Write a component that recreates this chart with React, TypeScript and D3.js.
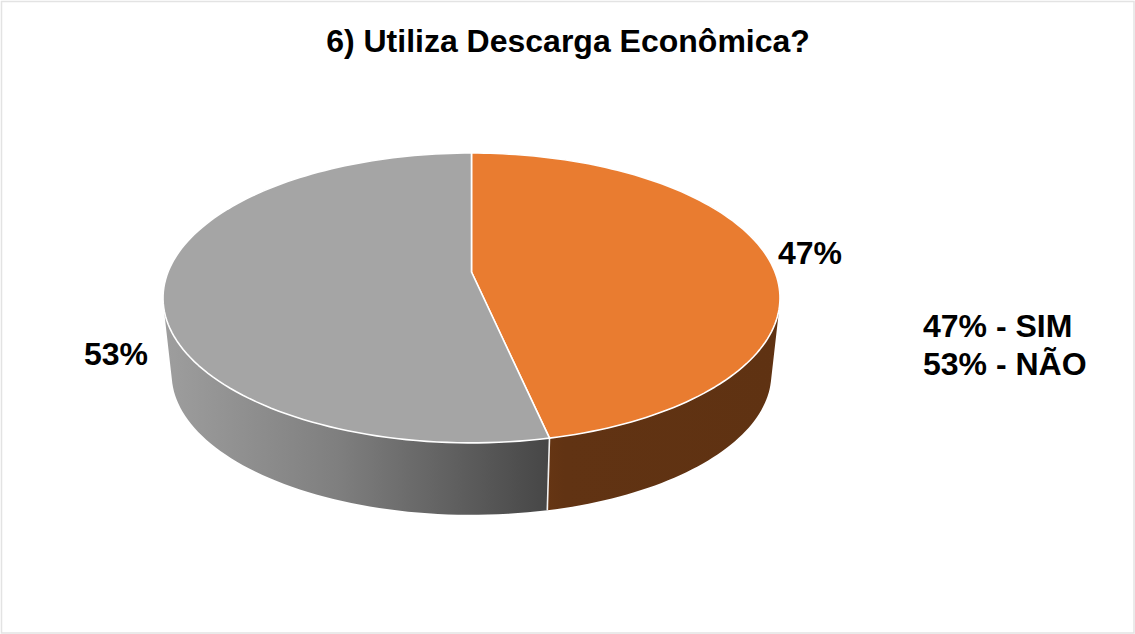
import React from "react";
import * as d3 from "d3";

const categories = ["SIM", "NÃO"];
const shares = [46.6, 53.4];
const shareLabels = ["47%", "53%"];
const legendLines = ["47% - SIM", "53% - NÃO"];
const title = "6) Utiliza Descarga Econômica?";
const sliceColors = ["#e97c30", "#a5a5a5"];

const W = 1135;
const H = 634;
const cx = 471.5;
const apexY = 272;
const K = 303.5;
const persp = -0.179;
const tilt = 91.6;
const midY = 298;
const lowerScale = 0.972;
const lowerDrop = 76;

type P = [number, number];
function project(t: number, r: number, lower: boolean): P {
  const u = r * Math.sin(t);
  const v = -r * Math.cos(t);
  const den = 1 + persp * v;
  const x = (K * u) / den;
  const y = (tilt * v + apexY) / den;
  if (!lower) return [cx + x, y];
  return [cx + lowerScale * x, midY + lowerScale * (y - midY) + lowerDrop];
}

const pie = d3.pie<number>().sort(null).startAngle(0).endAngle(2 * Math.PI);
const arcs = pie(shares);
const line = d3.line<P>();
const N = 120;

function rim(a: number, b: number, lower: boolean): P[] {
  return d3.range(N + 1).map((i) => project(a + ((b - a) * i) / N, 1, lower));
}

// The wall of a slice is the union of same-winding quads, so no seams and no holes.
function wallPath(a: number, b: number): string {
  const top = rim(a, b, false);
  const low = rim(a, b, true);
  return d3
    .range(N)
    .map((k) => {
      const q: P[] = [top[k], top[k + 1], low[k + 1], low[k]];
      if (d3.polygonArea(q) < 0) q.reverse();
      return (line(q) as string) + "Z";
    })
    .join("");
}

const wallStops = [
  [
    { o: 0, c: "#7a3f15" },
    { o: 0.3, c: "#613313" },
    { o: 1, c: "#5f3212" },
  ],
  [
    { o: 0, c: "#9e9e9e" },
    { o: 0.45, c: "#7f7f7f" },
    { o: 1, c: "#464646" },
  ],
];

export default function App() {
  return (
    <svg
      width={W}
      height={H}
      viewBox={`0 0 ${W} ${H}`}
      style={{ position: "absolute", left: 0, top: 0, background: "#fff" }}
      fontFamily="'Liberation Sans', Arial, sans-serif"
      fontWeight="bold"
    >
      <defs>
        {arcs.map((d, i) => {
          const xs = rim(d.startAngle, d.endAngle, false).map((p) => p[0]);
          const ext = d3.extent(xs) as [number, number];
          return (
            <linearGradient
              key={i}
              id={`wall${i}`}
              gradientUnits="userSpaceOnUse"
              x1={ext[0]}
              x2={ext[1]}
              y1={0}
              y2={0}
            >
              {wallStops[i].map((s) => (
                <stop key={s.o} offset={s.o} stopColor={s.c} />
              ))}
            </linearGradient>
          );
        })}
      </defs>
      <rect x={1.5} y={1.5} width={W - 2.5} height={H - 2.5} fill="#fff" stroke="#e3e3e3" strokeWidth={1.5} />
      <text x={568} y={51.5} textAnchor="middle" fontSize={32} fill="#000">
        {title}
      </text>

      {arcs.map((d, i) => (
        <path key={categories[i]} d={wallPath(d.startAngle, d.endAngle)} fill={`url(#wall${i})`} />
      ))}
      {arcs.map((d) => {
        const a = project(d.startAngle, 1, false);
        const b = project(d.startAngle, 1, true);
        return d.startAngle > 0 ? (
          <path key={d.index} d={line([a, b]) as string} stroke="#f2f2f2" strokeWidth={1.6} fill="none" />
        ) : null;
      })}
      {arcs.map((d, i) => {
        const pts: P[] = [project(0, 0, false), ...rim(d.startAngle, d.endAngle, false)];
        return (
          <path
            key={categories[i]}
            d={(line(pts) as string) + "Z"}
            fill={sliceColors[i]}
            stroke="#fff"
            strokeWidth={1.6}
            strokeLinejoin="round"
          />
        );
      })}

      <text x={778} y={264} fontSize={32} fill="#000">
        {shareLabels[0]}
      </text>
      <text x={84} y={365} fontSize={32} fill="#000">
        {shareLabels[1]}
      </text>
      {legendLines.map((t, i) => (
        <text key={t} x={923} y={337 + i * 37.5} fontSize={32} fill="#000">
          {t}
        </text>
      ))}
    </svg>
  );
}
